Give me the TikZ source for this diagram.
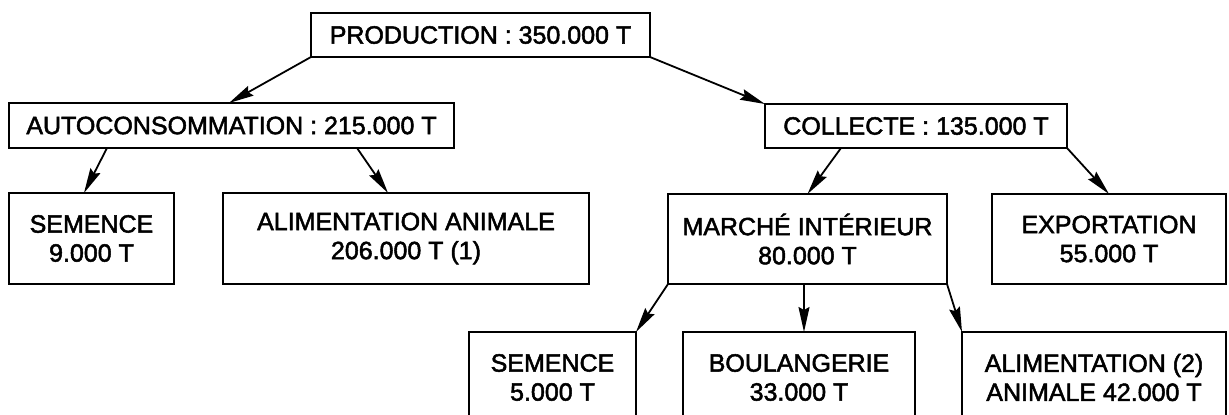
\documentclass[tikz,border=0pt]{standalone}
\usepackage{fontspec}
\setmainfont{Liberation Sans}
\newfontfamily\boxfont{Liberation Sans}[FakeBold=2]
\usetikzlibrary{arrows.meta}
\begin{document}
\begin{tikzpicture}[x=1pt,y=-1pt,
  box/.style={draw,line width=2pt,inner sep=0pt,outer sep=0pt,align=center,
    font=\boxfont\fontsize{25}{29}\selectfont},
  arr/.style={line width=1.8pt,-{Stealth[length=25pt,width=11pt,inset=3pt]}}]
\useasboundingbox (0,0) rectangle (1229,415);
\clip (0,0) rectangle (1229,415);
\fill[white] (0,0) rectangle (1229,415);
% row 0
\node[box,minimum width=339pt,minimum height=44pt] (prod) at (480.5,35) {PRODUCTION : 350.000 T};
% row 1
\node[box,minimum width=445pt,minimum height=45pt] (auto) at (231.5,125.5) {AUTOCONSOMMATION : 215.000 T};
\node[box,minimum width=302pt,minimum height=44pt] (coll) at (916,126) {COLLECTE : 135.000 T};
% row 2
\node[box,minimum width=165pt,minimum height=91pt] (sem1) at (91.5,238.5) {SEMENCE\\9.000 T};
\node[box,minimum width=366pt,minimum height=91pt] (alim1) at (406,238.5) {ALIMENTATION ANIMALE\\206.000 T (1)};
\node[box,minimum width=279pt,minimum height=90pt] (marche) at (807.5,239) {MARCHÉ INTÉRIEUR\\80.000 T};
\node[box,minimum width=234pt,minimum height=90pt] (export) at (1109,239) {EXPORTATION\\55.000 T};
% row 3
\node[box,minimum width=167pt,minimum height=91pt] (sem2) at (552.5,377.5) {SEMENCE\\5.000 T};
\node[box,minimum width=232pt,minimum height=91pt] (boul) at (799,377.5) {BOULANGERIE\\33.000 T};
\node[box,minimum width=264pt,minimum height=91pt] (alim2) at (1094,377.5) {ALIMENTATION (2)\\ANIMALE 42.000 T};
% arrows
\draw[arr] (prod.south west) -- ([xshift=-2.5pt]auto.north);
\draw[arr] (prod.south east) -- (coll.north west);
\draw[arr] ([xshift=98pt]auto.south west) -- ([xshift=-7.5pt]sem1.north);
\draw[arr] ([xshift=348pt]auto.south west) -- ([xshift=165pt]alim1.north west);
\draw[arr] ([xshift=76pt]coll.south west) -- (marche.north);
\draw[arr] (coll.south east) -- (export.north);
\draw[arr] (marche.south west) -- (sem2.north east);
\coordinate (mb) at ([xshift=-3.5pt]marche.south);
\draw[arr] (mb) -- (mb |- boul.north);
\draw[arr] (marche.south east) -- (alim2.north west);
\end{tikzpicture}
\end{document}
